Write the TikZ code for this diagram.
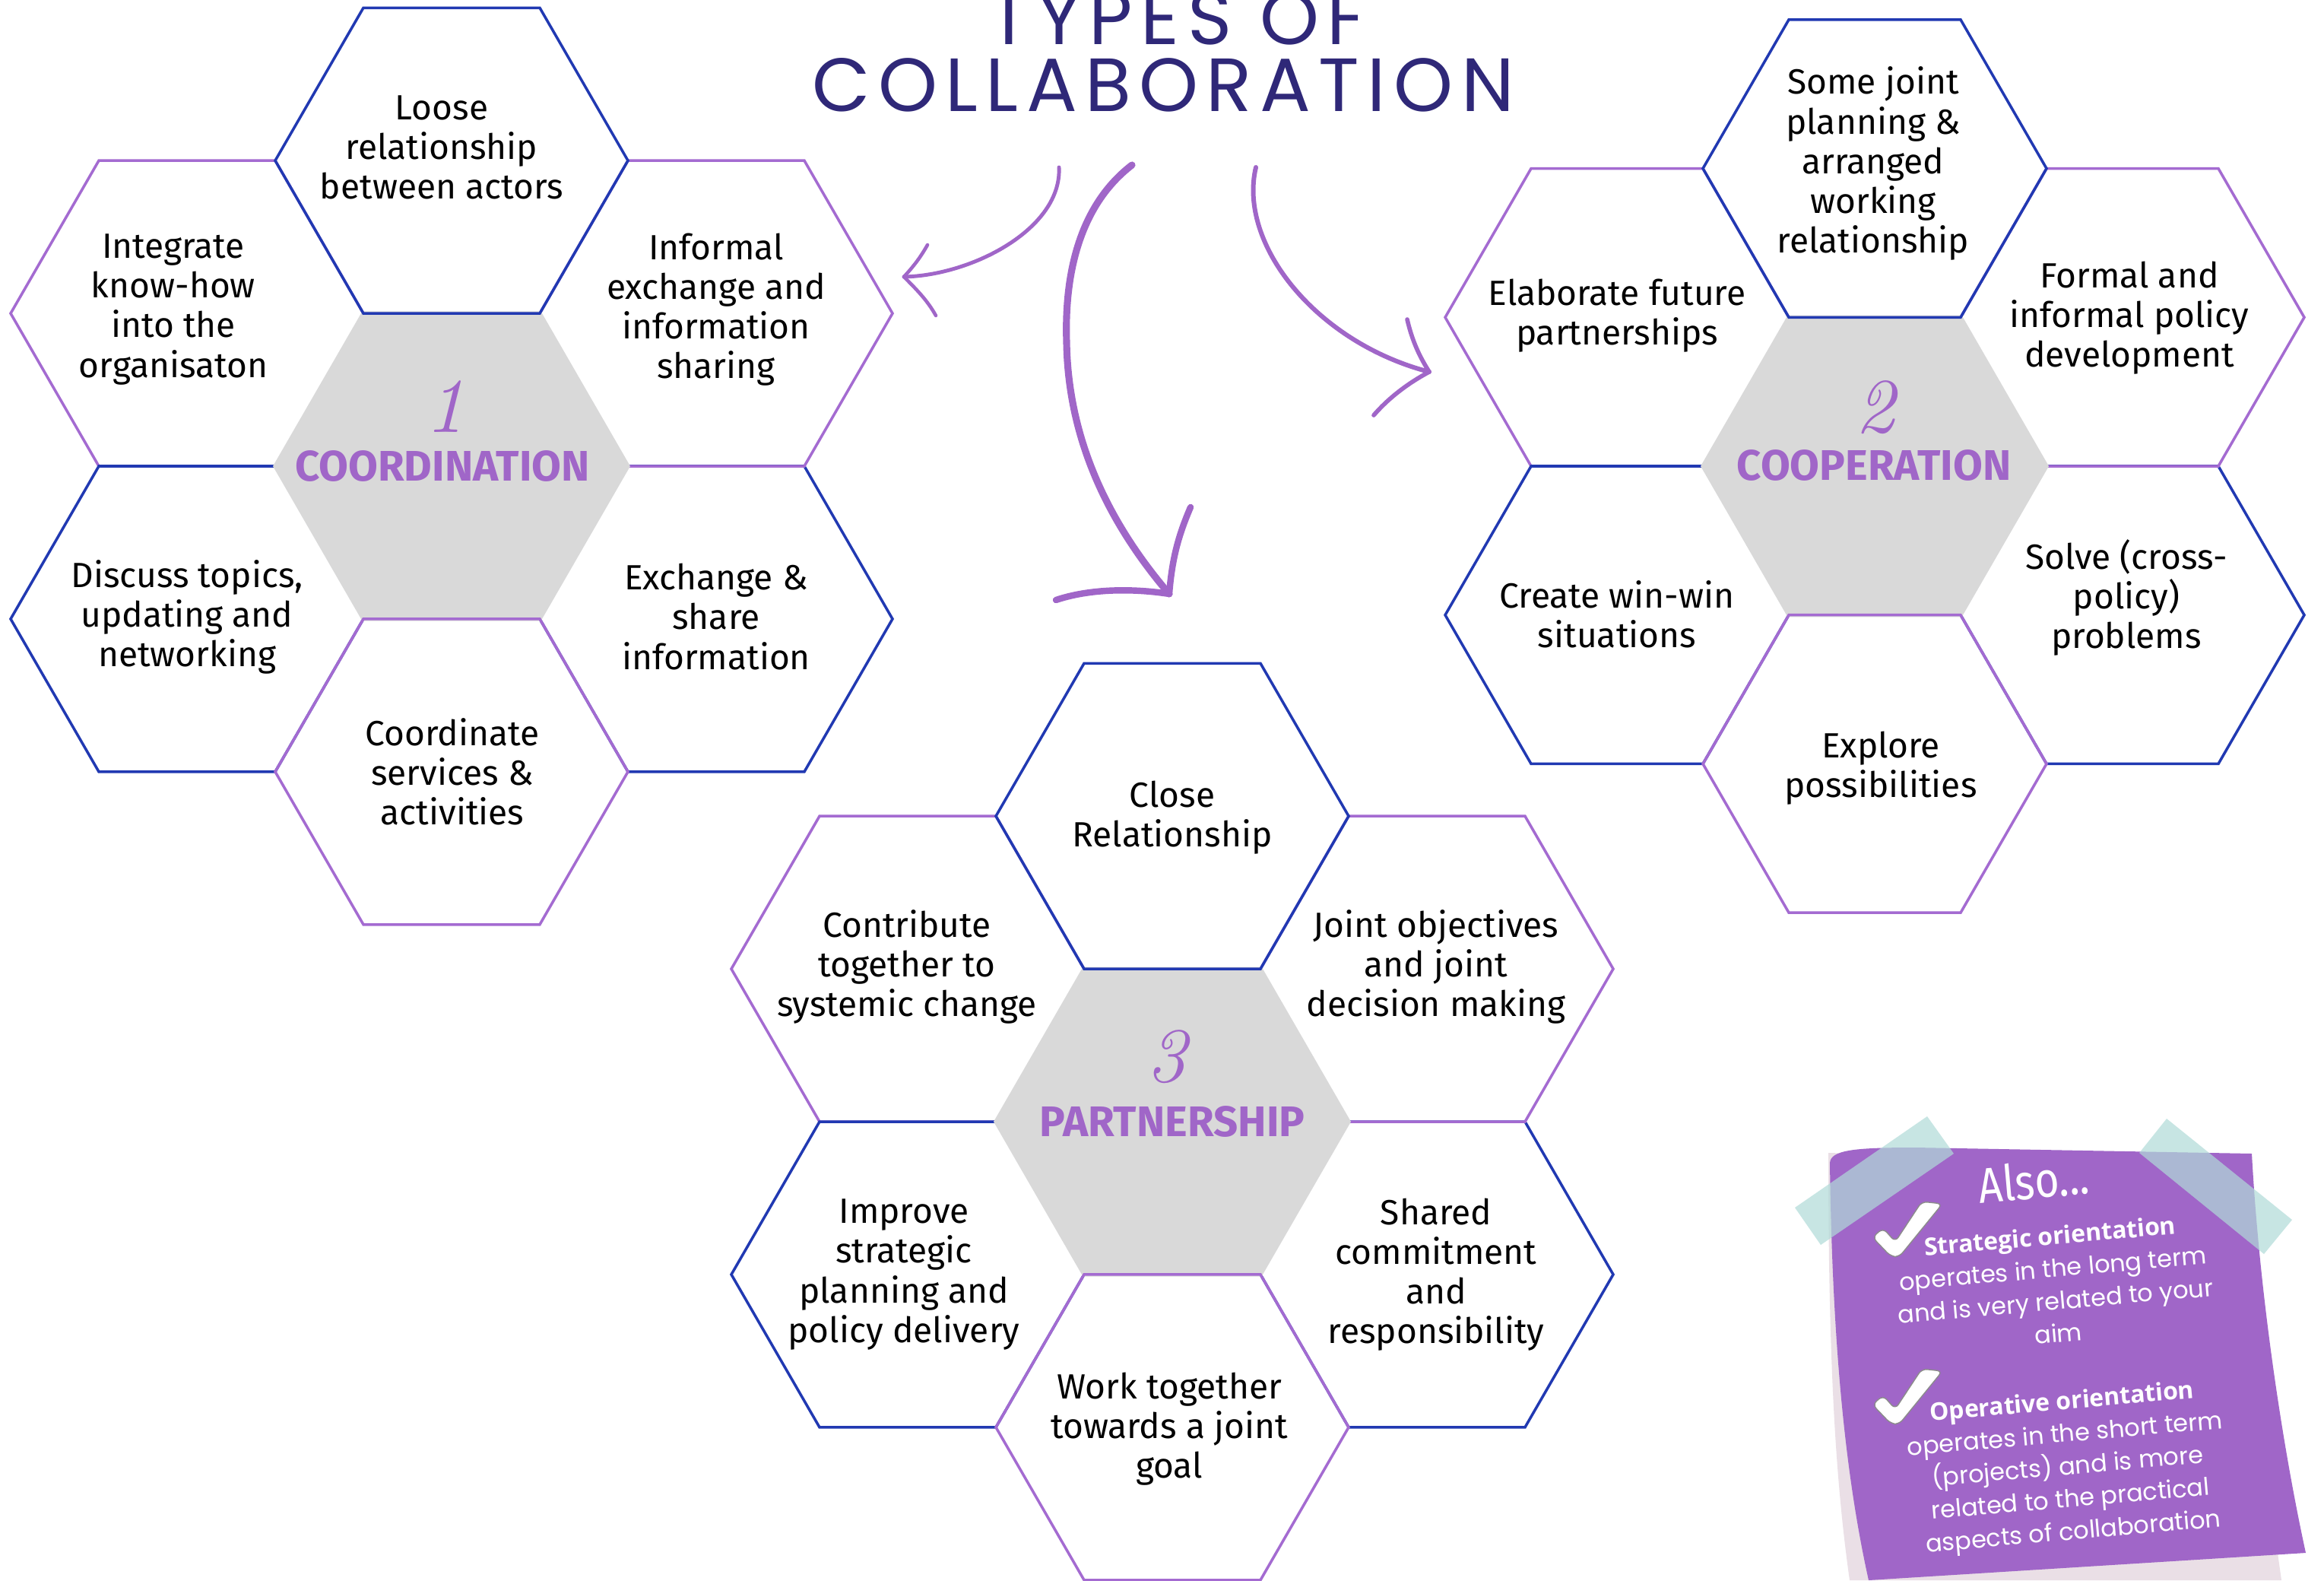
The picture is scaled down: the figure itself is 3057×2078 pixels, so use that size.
\documentclass[tikz,border=0pt]{standalone}
\usepackage{fontspec}
\setmainfont{Fira Sans}
\newfontfamily\titlefont{Poppins}[LetterSpace=10.5]
\newfontfamily\notefont{Poppins}
\newfontfamily\noteheadfont{Open Sans}
\newfontfamily\numfont{lmroman10-italic.otf}
\usetikzlibrary{shapes.geometric}

\definecolor{titlenavy}{HTML}{2F2878}
\definecolor{hexblue}{HTML}{2139B2}
\definecolor{hexpurple}{HTML}{A46BD1}
\definecolor{hubgray}{HTML}{D9D9D9}
\definecolor{hubpurple}{HTML}{A066C8}
\definecolor{notepurple}{HTML}{A066C8}
\definecolor{notepink}{HTML}{EADFE6}
\definecolor{tapeteal}{RGB}{176,219,216}

\begin{document}
\begin{tikzpicture}[x=0.01cm, y=-0.01cm,
    cell/.style={regular polygon, regular polygon sides=6, inner sep=0pt, line width=1pt},
    bluecell/.style={cell, draw=hexblue},
    purplecell/.style={cell, draw=hexpurple},
    hub/.style={regular polygon, regular polygon sides=6, inner sep=0pt, fill=hubgray},
    celltext/.style={font=\fontsize{13.1}{14.8}\selectfont, align=center, inner sep=0pt},
    hubname/.style={font=\fontsize{16}{18}\selectfont\bfseries, text=hubpurple, inner sep=0pt},
    hubnum/.style={font=\numfont\fontsize{29}{30}\selectfont, text=hubpurple, inner sep=0pt},
    titletext/.style={font=\titlefont\fontsize{28.2}{30}\selectfont, text=titlenavy, inner sep=0pt},
    notetext/.style={font=\notefont\fontsize{9.1}{12.2}\selectfont, text=white, align=center, inner sep=0pt, rotate=5},
    sketch/.style={draw=hubpurple, line cap=round, line join=round},
    tick/.style={fill=white, draw=black!45, line width=0.4pt, rounded corners=2pt}]

  \useasboundingbox (0,0) rectangle (3057,2078);
  \fill[white] (0,0) rectangle (3057,2078);

  % title
  \node[titletext, anchor=base] (title-top) at (1548,58) {TYPES OF};
  \node[titletext, anchor=base] (title) at (1530,146) {COLLABORATION};

  % honeycombs: side cells first, then the hub, then bottom and top cells
  \foreach \c/\x/\y/\r in {c1/594/613/232, c3/1542/1475/232, c2/2466/613/226} {
    \pgfmathsetmacro\dx{1.5*\r}
    \pgfmathsetmacro\dy{0.866*\r}
    \begin{scope}[shift={(\x,\y)}, every node/.append style={minimum size=2*\r*0.01cm}]
      \node[bluecell]   (\c-se) at (\dx,\dy) {};
      \node[purplecell] (\c-ne) at (\dx,-\dy) {};
      \node[purplecell] (\c-nw) at (-\dx,-\dy) {};
      \node[bluecell]   (\c-sw) at (-\dx,\dy) {};
      \node[hub, minimum size=2*\r*0.01cm+0.06cm] (\c-hub) at (0,0) {};
      \node[purplecell] (\c-s) at (0,2*\dy) {};
      \node[bluecell]   (\c-n) at (0,-2*\dy) {};
    \end{scope}
  }

  % 1 - coordination
  \node[hubnum, anchor=base] (c1-num) at (586,568) {1};
  \node[hubname, anchor=base] (c1-name) at (582,632) {COORDINATION};
  \node[celltext] (c1-n-t) at (581,194) {Loose\\relationship\\between actors};
  \node[celltext] (c1-nw-t) at (228,407) {Integrate\\know-how\\into the\\organisaton};
  \node[celltext] (c1-ne-t) at (942,407) {Informal\\exchange and\\information\\sharing};
  \node[celltext] (c1-sw-t) at (246,811) {Discuss topics,\\updating and\\networking};
  \node[celltext] (c1-se-t) at (942,811) {Exchange \&\\share\\information};
  \node[celltext] (c1-s-t) at (595,1015) {Coordinate\\services \&\\activities};

  % 2 - cooperation
  \node[hubnum, anchor=base] (c2-num) at (2467,568) {2};
  \node[hubname, anchor=base] (c2-name) at (2465,631) {COOPERATION};
  \node[celltext] (c2-n-t) at (2464,215) {Some joint\\planning \&\\arranged\\working\\relationship};
  \node[celltext] (c2-nw-t) at (2127,415) {Elaborate future\\partnerships};
  \node[celltext] (c2-ne-t) at (2801,418) {Formal and\\informal policy\\development};
  \node[celltext] (c2-sw-t) at (2127,808) {Create win-win\\situations};
  \node[celltext] (c2-se-t) at (2797,786) {Solve (cross-\\policy)\\problems};
  \node[celltext] (c2-s-t) at (2474,1010) {Explore\\possibilities};

  % 3 - partnership
  \node[hubnum, anchor=base] (c3-num) at (1535,1422) {3};
  \node[hubname, anchor=base] (c3-name) at (1542,1494) {PARTNERSHIP};
  \node[celltext] (c3-n-t) at (1542,1075) {Close\\Relationship};
  \node[celltext] (c3-nw-t) at (1193,1271) {Contribute\\together to\\systemic change};
  \node[celltext] (c3-ne-t) at (1889,1271) {Joint objectives\\and joint\\decision making};
  \node[celltext] (c3-sw-t) at (1189,1676) {Improve\\strategic\\planning and\\policy delivery};
  \node[celltext] (c3-se-t) at (1889,1676) {Shared\\commitment\\and\\responsibility};
  \node[celltext] (c3-s-t) at (1538,1879) {Work together\\towards a joint\\goal};

  % hand drawn arrows
  \coordinate (a1-from) at (1393,220);
  \coordinate (a1-to) at (1189,364);
  \draw[sketch, line width=1.4pt] (a1-from) .. controls (1397,300) and (1280,362) .. (a1-to);
  \draw[sketch, line width=1.3pt] (1220,322) .. controls (1210,340) and (1200,352) .. (a1-to)
    .. controls (1205,380) and (1220,395) .. (1231,415);

  \coordinate (a2-from) at (1489,217);
  \coordinate (a2-to) at (1538,781);
  \draw[sketch, line width=2.6pt] (a2-from) .. controls (1420,270) and (1400,360) .. (1403,450)
    .. controls (1405,580) and (1460,690) .. (a2-to);
  \draw[sketch, line width=2.4pt] (1389,789) .. controls (1440,772) and (1500,775) .. (a2-to)
    .. controls (1542,730) and (1552,700) .. (1566,667);

  \coordinate (a3-from) at (1652,220);
  \coordinate (a3-to) at (1880,489);
  \draw[sketch, line width=1.7pt] (a3-from) .. controls (1628,320) and (1730,450) .. (a3-to);
  \draw[sketch, line width=1.6pt] (1851,420) .. controls (1858,450) and (1868,470) .. (a3-to)
    .. controls (1850,505) and (1825,525) .. (1807,546);

  % sticky note
  \fill[notepink] (2405,1516) .. controls (2405,1800) and (2415,1950) .. (2433,2078)
    -- (3001,2078) -- (2990,2000) -- (2950,1530) -- cycle;
  \fill[notepurple] (2407,1530) .. controls (2407,1512) and (2440,1509) .. (2520,1509)
    -- (2962,1517) .. controls (2972,1700) and (3002,1900) .. (3033,2042)
    -- (2458,2078) .. controls (2425,1930) and (2410,1750) .. (2407,1530) -- cycle;

  \node[notetext, font=\fontsize{18.5}{20}\selectfont] (also) at (2675,1552) {\scalebox{0.85}[1]{Also...}};
  \node[notetext] (strategic) at (2702,1689)
    {{\noteheadfont\bfseries Strategic orientation}\\operates in the long term\\and is very related to your\\aim};
  \node[notetext] (operative) at (2720,1931)
    {{\noteheadfont\bfseries Operative orientation}\\operates in the short term\\(projects) and is more\\related to the practical\\aspects of collaboration};

  \draw[tick] (2463,1627) -- (2477,1615) -- (2493,1633) -- (2528,1580) -- (2555,1583)
    -- (2498,1653) -- (2487,1652) -- cycle;
  \draw[tick] (2463,1847) -- (2477,1835) -- (2493,1853) -- (2528,1800) -- (2555,1803)
    -- (2498,1873) -- (2487,1872) -- cycle;

  \fill[tapeteal, opacity=0.7] (2361,1588) -- (2535,1468) -- (2570,1517) -- (2395,1637) -- cycle;
  \fill[tapeteal, opacity=0.7] (2850,1471) -- (3015,1604) -- (2978,1649) -- (2814,1516) -- cycle;
\end{tikzpicture}
\end{document}
